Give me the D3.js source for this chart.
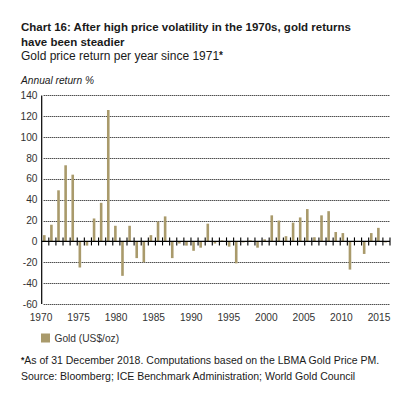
<!DOCTYPE html>
<html>
<head>
<meta charset="utf-8">
<script src="https://cdn.jsdelivr.net/npm/d3@7/dist/d3.min.js"></script>
<style>
  body { margin: 0; background: #fff; }
  text { font-family: "Liberation Sans", Arial, sans-serif; fill: #1a1a1a; }
  .title { font-size: 11.5px; font-weight: bold; }
  .subTitle { font-size: 12px; }
  .unit { font-size: 10.2px; font-style: italic; }
  .tickText { font-size: 10.2px; fill: #333; }
  .note { font-size: 10.5px; }
  .grid { stroke: #000; stroke-width: 1; stroke-dasharray: 1,1; }
</style>
</head>
<body>
<div id="chart"></div>
<script>
// Chart values
var years = d3.range(1970, 2019);
var goldReturns = [6, 16, 49, 73, 64, -25, -4, 22, 37, 126,
                   15, -33, 15, -16, -20, 6, 19, 24, -16, -2,
                   -4, -9, -6, 17, -2, 1, -5, -21, -1, 1,
                   -6, 2, 25, 20, 5, 18, 23, 31, 4, 25,
                   29, 9, 8, -27, -0.5, -12, 8, 13, -1];
var yTicks = [-60, -40, -20, 0, 20, 40, 60, 80, 100, 120, 140];
var xLabels = [1970, 1975, 1980, 1985, 1990, 1995, 2000, 2005, 2010, 2015];

// Spacing
var width = 415, height = 399;
var plot = {left: 41.7, right: 390, top: 95.4, bottom: 304};
var barColor = "#a99a6b";

var svg = d3.select("#chart")
	.append("svg")
	.attr("width", width)
	.attr("height", height);

// Scales
var xScale = d3.scaleBand()
	.domain(years)
	.range([plot.left, plot.right]);

var labelScale = d3.scalePoint()
	.domain(xLabels)
	.range([41, 379]);

var yScale = d3.scaleLinear()
	.domain([-60, 140])
	.range([plot.bottom, plot.top]);

// Dotted gridlines
svg.selectAll(".grid")
	.data(yTicks.filter(function(d){ return d != 0; }))
	.enter()
	.append("line")
	.attr("class", "grid")
	.attr("x1", plot.left + 2)
	.attr("x2", plot.right)
	.attr("y1", function(d){ return Math.round(yScale(d)) + 0.5; })
	.attr("y2", function(d){ return Math.round(yScale(d)) + 0.5; });

// Bars
svg.selectAll(".bars")
	.data(goldReturns)
	.enter()
	.append("rect")
	.attr("class", "bars")
	.attr("x", function(d, i){ return xScale(years[i]) + 1.3; })
	.attr("y", function(d){ return yScale(Math.max(0, d)); })
	.attr("width", 2.6)
	.attr("height", function(d){ return Math.abs(yScale(d) - yScale(0)); })
	.style("fill", barColor);

// Y axis line
svg.append("line")
	.attr("x1", plot.left).attr("x2", plot.left)
	.attr("y1", plot.top).attr("y2", plot.bottom)
	.style("stroke", "#000").style("stroke-width", 1.2);

// Zero line with tick marks between years
var y0 = yScale(0);
svg.append("line")
	.attr("x1", plot.left).attr("x2", plot.right)
	.attr("y1", y0).attr("y2", y0)
	.style("stroke", "#000").style("stroke-width", 1.4);

svg.selectAll(".xtick")
	.data(years)
	.enter()
	.append("line")
	.attr("class", "xtick")
	.attr("x1", function(d){ return xScale(d) + xScale.bandwidth(); })
	.attr("x2", function(d){ return xScale(d) + xScale.bandwidth(); })
	.attr("y1", y0 - 4)
	.attr("y2", y0 + 4)
	.style("stroke", "#000").style("stroke-width", 1.1);

// Y tick labels
svg.selectAll(".ylabel")
	.data(yTicks)
	.enter()
	.append("text")
	.attr("class", "tickText")
	.attr("x", 37.5)
	.attr("y", function(d){ return yScale(d) + 3.6; })
	.style("text-anchor", "end")
	.text(function(d){ return d; });

// X tick labels
svg.selectAll(".xlabel")
	.data(xLabels)
	.enter()
	.append("text")
	.attr("class", "tickText")
	.attr("x", function(d){ return labelScale(d); })
	.attr("y", 320.5)
	.style("text-anchor", "middle")
	.text(function(d){ return d; });

// Title and subtitle
svg.append("text")
	.attr("x", 21).attr("y", 30.5)
	.attr("class", "title")
	.text("Chart 16: After high price volatility in the 1970s, gold returns");

svg.append("text")
	.attr("x", 21).attr("y", 45.5)
	.attr("class", "title")
	.text("have been steadier");

var sub = svg.append("text")
	.attr("x", 21).attr("y", 59.5)
	.attr("class", "subTitle")
	.text("Gold price return per year since 1971");
sub.append("tspan")
	.attr("dy", -1)
	.style("font-size", "10px")
	.style("font-weight", "bold")
	.text("*");

svg.append("text")
	.attr("x", 21).attr("y", 84)
	.attr("class", "unit")
	.text("Annual return %");

// Legend
svg.append("rect")
	.attr("x", 41).attr("y", 333.5)
	.attr("width", 9).attr("height", 9)
	.style("fill", barColor);

svg.append("text")
	.attr("x", 54.5).attr("y", 342)
	.attr("class", "tickText")
	.text("Gold (US$/oz)");

// Footnotes
var note = svg.append("text")
	.attr("x", 21).attr("y", 363.5)
	.attr("class", "note");
note.append("tspan")
	.attr("dy", -1)
	.style("font-size", "8.5px")
	.style("font-weight", "bold")
	.text("*");
note.append("tspan")
	.attr("dy", 1)
	.text("As of 31 December 2018. Computations based on the LBMA Gold Price PM.");

svg.append("text")
	.attr("x", 21).attr("y", 380)
	.attr("class", "note")
	.text("Source: Bloomberg; ICE Benchmark Administration; World Gold Council");
</script>
</body>
</html>
